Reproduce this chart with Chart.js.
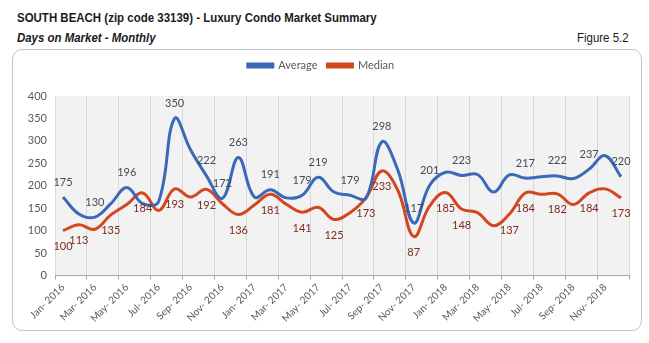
<!DOCTYPE html>
<html>
<head>
<meta charset="utf-8">
<script src="https://cdn.jsdelivr.net/npm/chart.js@4.4.1/dist/chart.umd.min.js"></script>
<style>
  body { margin: 0; background: #fff; width: 649px; height: 343px; position: relative; overflow: hidden; }
  .hd { position: absolute; font-family: "Liberation Sans Narrow", "Arial Narrow", "Liberation Sans", sans-serif; color: #1a1a1a; white-space: nowrap; }
  #title { left: 17px; top: 10px; font-size: 13.5px; font-weight: bold; transform: scaleX(0.85); transform-origin: left center; }
  #sub { left: 17px; top: 30px; font-size: 13px; font-weight: bold; font-style: italic; transform: scaleX(0.88); transform-origin: left center; }
  #fig { right: 20px; top: 30px; font-size: 13px; transform: scaleX(0.88); transform-origin: right center; }
  #box { position: absolute; left: 12px; top: 49px; width: 628px; height: 280px; border: 1px solid #c4c4c4; border-radius: 10px; }
  #chart { position: absolute; left: 0; top: 0; }
</style>
</head>
<body>
<div class="hd" id="title">SOUTH BEACH (zip code 33139) - Luxury Condo Market Summary</div>
<div class="hd" id="sub">Days on Market - Monthly</div>
<div class="hd" id="fig">Figure 5.2</div>
<div id="box"><canvas id="chart" width="628" height="280"></canvas></div>
<script>
// === Données ===
const months = [
  "Jan- 2016", "Feb- 2016", "Mar- 2016", "Apr- 2016", "May- 2016", "Jun- 2016",
  "Jul- 2016", "Aug- 2016", "Sep- 2016", "Oct- 2016", "Nov- 2016", "Dec- 2016",
  "Jan- 2017", "Feb- 2017", "Mar- 2017", "Apr- 2017", "May- 2017", "Jun- 2017",
  "Jul- 2017", "Aug- 2017", "Sep- 2017", "Oct- 2017", "Nov- 2017", "Dec- 2017",
  "Jan- 2018", "Feb- 2018", "Mar- 2018", "Apr- 2018", "May- 2018", "Jun- 2018",
  "Jul- 2018", "Aug- 2018", "Sep- 2018", "Oct- 2018", "Nov- 2018", "Dec- 2018"
];
const average = [175, 137, 130, 160, 196, 160, 165, 350, 280, 222, 172, 263,
                 175, 191, 173, 179, 219, 186, 179, 172, 298, 235, 117, 201,
                 230, 223, 225, 186, 224, 217, 220, 222, 216, 237, 267, 220];
const median  = [100, 113, 103, 135, 158, 184, 145, 193, 175, 192, 160, 136,
                 157, 181, 159, 141, 152, 125, 140, 173, 233, 190, 87, 155,
                 185, 148, 140, 111, 137, 184, 181, 182, 158, 184, 193, 173];
// points qui portent une étiquette
const avgLabelIdx = [0, 2, 4, 7, 9, 10, 11, 13, 15, 16, 18, 20, 22, 23, 25, 29, 31, 33, 35];
const medLabelIdx = [0, 1, 3, 5, 7, 9, 11, 13, 15, 17, 19, 20, 22, 24, 25, 28, 29, 31, 33, 35];
const yTicks = [0, 50, 100, 150, 200, 250, 300, 350, 400];

const fontFam = "Lato, 'Open Sans', sans-serif";
const blue = "#3c68b8";
const red = "#d4461f";

// fond gris de la zone de tracé
const plotBg = {
  id: "plotBg",
  beforeDraw(chart) {
    const a = chart.chartArea;
    const ctx = chart.ctx;
    ctx.save();
    ctx.fillStyle = "#f2f2f2";
    ctx.fillRect(a.left, a.top, a.right - a.left, a.bottom - a.top);
    ctx.restore();
  }
};

// étiquettes de valeurs (au-dessus pour la moyenne, en dessous pour la médiane)
const valueLabels = {
  id: "valueLabels",
  afterDatasetsDraw(chart) {
    const ctx = chart.ctx;
    chart.data.datasets.forEach((ds, di) => {
      const meta = chart.getDatasetMeta(di);
      const idx = di === 0 ? avgLabelIdx : medLabelIdx;
      ctx.save();
      ctx.font = "11px " + fontFam;
      ctx.fillStyle = di === 0 ? "#404a58" : "#7e2b1d";
      ctx.textAlign = "center";
      ctx.textBaseline = "middle";
      idx.forEach(i => {
        const p = meta.data[i];
        ctx.fillText(ds.data[i], p.x, p.y + (di === 0 ? -15 : 16));
      });
      ctx.restore();
    });
  }
};

// espace sous la légende
const legendGap = {
  id: "legendGap",
  beforeInit(chart) {
    const fit = chart.legend.fit;
    chart.legend.fit = function () {
      fit.bind(chart.legend)();
      this.height += 15;
    };
  }
};

new Chart(document.getElementById("chart"), {
  type: "line",
  data: {
    labels: months,
    datasets: [
      { label: "Average", data: average, borderColor: blue, backgroundColor: blue,
        borderWidth: 3, pointRadius: 0, tension: 0.4, fill: false },
      { label: "Median", data: median, borderColor: red, backgroundColor: red,
        borderWidth: 3, pointRadius: 0, tension: 0.4, fill: false }
    ]
  },
  options: {
    responsive: false,
    animation: false,
    layout: { padding: { top: 0, right: 12, bottom: 0, left: 0 } },
    scales: {
      x: {
        offset: true,
        grid: {
          offset: true,
          color: c => (c.index % 2 ? "rgba(0,0,0,0)" : "#d9d9d9"),
          tickColor: c => (c.index % 2 ? "rgba(0,0,0,0)" : "#a6a6a6"),
          tickLength: 4
        },
        border: { color: "#a6a6a6" },
        ticks: {
          autoSkip: false,
          minRotation: 45,
          maxRotation: 45,
          padding: 2,
          color: "#595959",
          font: { size: 10, family: fontFam },
          callback: (v, i) => (i % 2 ? "" : months[i])
        },
        afterFit: s => { s.height = 54.5; }
      },
      y: {
        min: 0,
        max: 400,
        afterBuildTicks: s => { s.ticks = yTicks.map(v => ({ value: v })); },
        ticks: { color: "#595959", font: { size: 11, family: fontFam }, padding: 8 },
        grid: { display: false, drawTicks: false },
        border: { display: false },
        afterFit: s => { s.width = 42; }
      }
    },
    plugins: {
      legend: {
        position: "top",
        labels: {
          boxWidth: 25,
          boxHeight: 3,
          padding: 10,
          color: "#595959",
          font: { size: 11, family: fontFam }
        }
      },
      tooltip: { enabled: false }
    }
  },
  plugins: [plotBg, valueLabels, legendGap]
});
</script>
</body>
</html>
